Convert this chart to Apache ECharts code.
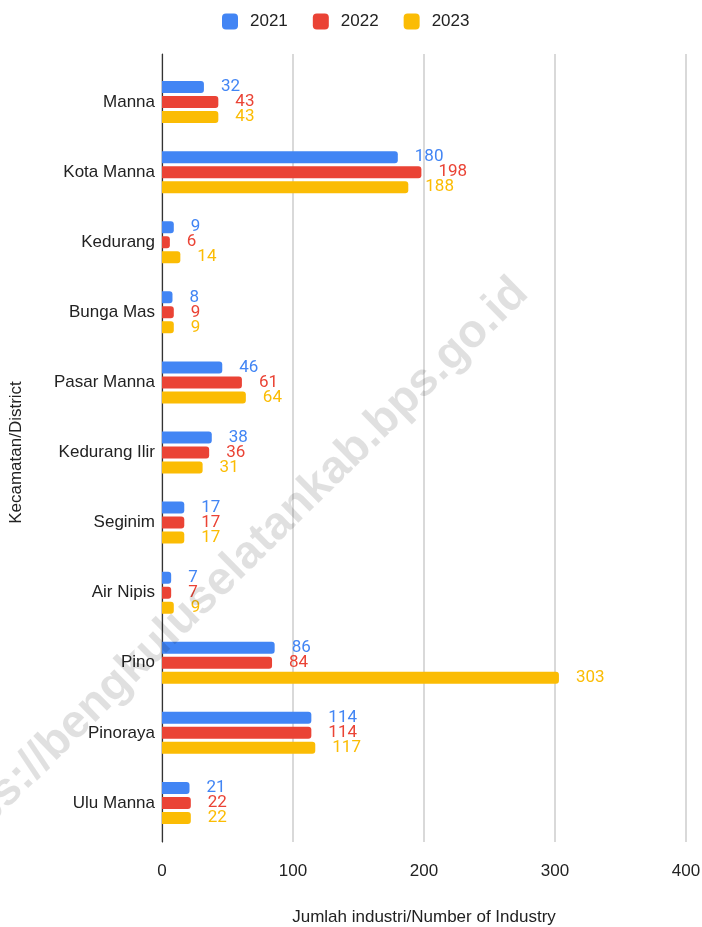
<!DOCTYPE html>
<html><head><meta charset="utf-8">
<script src="https://cdn.jsdelivr.net/npm/echarts@6/dist/echarts.min.js"></script>
<style>html,body{margin:0;padding:0;background:#fff}#c{width:702px;height:927px}</style>
</head><body><div id="c"></div>
<script>
const categories = ["Manna","Kota Manna","Kedurang","Bunga Mas","Pasar Manna","Kedurang Ilir","Seginim","Air Nipis","Pino","Pinoraya","Ulu Manna"];
const seriesNames = ["2021","2022","2023"];
const v2021 = [32,180,9,8,46,38,17,7,86,114,21];
const v2022 = [43,198,6,9,61,36,17,7,84,114,22];
const v2023 = [43,188,14,9,64,31,17,9,303,117,22];
const xTicks = [0,100,200,300,400];
const colors = ["#4285F4","#EA4335","#FBBC04"];

const FONT = 'Liberation Sans, Arial';
const chart = echarts.init(document.getElementById('c'), null, {renderer:'canvas'});
const vals = [v2021, v2022, v2023];
chart.setOption({
  animation:false,
  color: colors,
  legend:{top:8,left:217,itemWidth:16,itemHeight:16,itemGap:25,icon:'roundRect',
    textStyle:{fontFamily:FONT,fontSize:17,color:'#222',padding:[0,0,0,7]},
    data:seriesNames},
  grid:[
    {left:162,right:16,top:67,bottom:89,containLabel:false,outerBoundsMode:'none'},
    {left:162,right:16,top:54,bottom:85,containLabel:false,outerBoundsMode:'none'}
  ],
  xAxis:[
    {type:'value',gridIndex:0,min:xTicks[0],max:xTicks[xTicks.length-1],interval:100,
    name:'Jumlah industri/Number of Industry',nameLocation:'middle',nameGap:71,
    nameTextStyle:{fontFamily:FONT,fontSize:17,color:'#222'},
    axisLine:{show:false},axisTick:{show:false},
    axisLabel:{fontFamily:FONT,fontSize:17,color:'#222',margin:25},
    splitLine:{show:false}},
    {type:'value',gridIndex:1,min:xTicks[0],max:xTicks[xTicks.length-1],interval:100,
    axisLine:{show:false},axisTick:{show:false},axisLabel:{show:false},
    splitLine:{lineStyle:{color:'#cccccc',width:1.5}}}
  ],
  yAxis:[
    {type:'category',gridIndex:0,inverse:true,data:categories,
    name:'Kecamatan/District',nameLocation:'middle',nameGap:137,nameRotate:90,
    nameTextStyle:{fontFamily:FONT,fontSize:17,color:'#222'},
    axisLine:{show:false},axisTick:{show:false},
    axisLabel:{fontFamily:FONT,fontSize:17,color:'#222',margin:7}},
    {type:'value',gridIndex:1,min:0,max:1,
    axisLine:{show:true,lineStyle:{color:'#333',width:1.2}},axisTick:{show:false},
    axisLabel:{show:false},splitLine:{show:false}}
  ],
  series: seriesNames.map((n,i)=>({
    name:n,type:'bar',xAxisIndex:0,yAxisIndex:0,data:vals[i],barWidth:12,barGap:'25%',barCategoryGap:'40%',
    itemStyle:{borderRadius:[0,3,3,0]},z:3,
    label:{show:true,position:'right',distance:17,color:colors[i],
      fontFamily:'Roboto',fontSize:17}
  })),
  graphic:[{type:'text',x:521,y:286,rotation:44.5*Math.PI/180,z:100,
    style:{text:'https://bengkuluselatankab.bps.go.id',fontFamily:FONT,
      fontWeight:'bold',fontSize:46.5,fill:'rgba(0,0,0,0.12)',align:'right',verticalAlign:'middle'}}]
});
</script></body></html>
